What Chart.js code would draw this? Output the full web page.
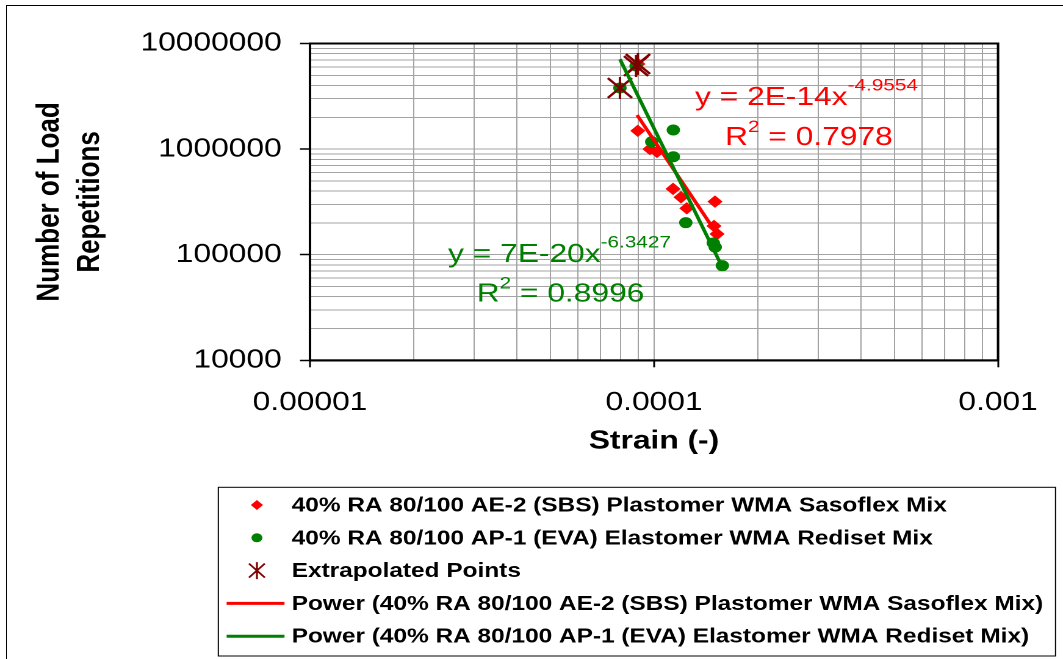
<!DOCTYPE html>
<html>
<head>
<meta charset="utf-8">
<script src="https://cdn.jsdelivr.net/npm/chart.js@4.4.0/dist/chart.umd.min.js"></script>
<style>
  html, body { margin: 0; padding: 0; background: #fff; width: 1063px; height: 659px; overflow: hidden; }
  #frame { position: absolute; left: 6px; top: 5px; width: 1100px; height: 700px;
           border-left: 1px solid #000; border-top: 1px solid #000; }
  /* the chart is laid out on a narrower canvas and widened horizontally */
  #wrap { position: absolute; left: 0; top: 0; width: 871px; height: 659px;
          transform: scaleX(1.2204); transform-origin: 0 0; }
</style>
</head>
<body>
<div id="frame"></div>
<div id="wrap"><canvas id="c"></canvas></div>
<script>
const FONT = "'Liberation Sans', Arial, Helvetica, sans-serif";
const RED = '#ff0000';
const GREEN = '#008000';
const MAROON = '#800000';

// Fatigue test results: strain (-) against number of load repetitions
const sbsStrain = [8.97e-5, 9.73e-5, 1.02e-4, 1.136e-4, 1.198e-4, 1.245e-4, 1.504e-4, 1.494e-4, 1.525e-4, 8.98e-5];
const sbsReps   = [1490000, 1000000, 940000, 420000, 350000, 275000, 318000, 187000, 157000, 6400000];

const evaStrain = [7.96e-5, 8.87e-5, 9.85e-5, 1.138e-4, 1.138e-4, 1.237e-4, 1.487e-4, 1.506e-4, 1.58e-4];
const evaReps   = [3790000, 6120000, 1175000, 1517000, 847000, 201000, 129000, 118000, 78700];

const extraStrain = [7.96e-5, 8.87e-5, 8.98e-5];
const extraReps   = [3790000, 6120000, 6400000];

// Power trend lines (end points)
const sbsTrendStrain = [8.93e-5, 1.545e-4];
const sbsTrendReps   = [2100000, 147000];
const evaTrendStrain = [7.96e-5, 1.58e-4];
const evaTrendReps   = [7100000, 76000];

// Axis tick labels
const xTickValues = [1e-5, 1e-4, 1e-3];
const xTickLabels = ['0.00001', '0.0001', '0.001'];
const yTickValues = [1e4, 1e5, 1e6, 1e7];
const yTickLabels = ['10000', '100000', '1000000', '10000000'];

const seriesLabels = [
  '40% RA 80/100 AE-2 (SBS) Plastomer WMA Sasoflex Mix',
  '40% RA 80/100 AP-1 (EVA) Elastomer WMA Rediset Mix',
  'Extrapolated Points',
  'Power (40% RA 80/100 AE-2 (SBS) Plastomer WMA Sasoflex Mix)',
  'Power (40% RA 80/100 AP-1 (EVA) Elastomer WMA Rediset Mix)'
];

// Trend line equations: [equation, exponent, R squared]
const sbsEquation = ['y = 2E-14x', '-4.9554', '0.7978'];
const evaEquation = ['y = 7E-20x', '-6.3427', '0.8996'];

// ---- layout (canvas units) ----
const W = 871, H = 659;
const PLOT_LEFT = 254, PLOT_RIGHT = 817.8, PLOT_TOP = 43.5, PLOT_BOTTOM = 360.3;
const X_AXIS_H = 110;

const pts = (xs, ys) => xs.map((x, i) => ({ x: x, y: ys[i] }));
const sameLog = (a, b) => Math.abs(Math.log10(a) - Math.log10(b)) < 1e-6;
const isDecade = v => Math.abs(Math.log10(v) - Math.round(Math.log10(v))) < 1e-6;
const labelFor = (v, values, labels) => {
  const i = values.findIndex(t => sameLog(t, v));
  return i >= 0 ? labels[i] : '';
};
function logTicks(min, max) {
  const out = [];
  for (let e = Math.round(Math.log10(min)); e < Math.round(Math.log10(max)); e++) {
    for (let m = 1; m <= 9; m++) out.push({ value: m * Math.pow(10, e) });
  }
  out.push({ value: max });
  return out;
}

const gridColor = '#a3a3a3';

// plot-area frame
const framePlugin = {
  id: 'plotFrame',
  beforeDatasetsDraw(chart) {
    const { ctx, chartArea: a } = chart;
    ctx.save();
    ctx.strokeStyle = '#000';
    ctx.lineWidth = 2;
    ctx.strokeRect(a.left, a.top, a.right - a.left, a.bottom - a.top);
    ctx.restore();
  }
};

// vertical stroke that turns the rotated cross into an asterisk
const asteriskPlugin = {
  id: 'asterisk',
  afterDatasetDraw(chart, args) {
    if (args.index !== 2) return;
    const ctx = chart.ctx;
    ctx.save();
    ctx.strokeStyle = MAROON;
    ctx.lineWidth = 2;
    args.meta.data.forEach(el => {
      ctx.beginPath();
      ctx.moveTo(el.x, el.y - 11);
      ctx.lineTo(el.x, el.y + 11);
      ctx.stroke();
    });
    ctx.restore();
  }
};

function drawEquation(ctx, eq, color, x, base, supRise, xR, baseR) {
  ctx.fillStyle = color;
  ctx.textBaseline = 'alphabetic';
  ctx.textAlign = 'left';
  ctx.font = '26px ' + FONT;
  ctx.fillText(eq[0], x, base);
  const w = ctx.measureText(eq[0]).width;
  ctx.font = '17px ' + FONT;
  ctx.fillText(eq[1], x + w, base - supRise);
  ctx.font = '26px ' + FONT;
  ctx.fillText('R', xR, baseR);
  const wR = ctx.measureText('R').width;
  ctx.font = '17px ' + FONT;
  ctx.fillText('2', xR + wR, baseR - 13);
  const w2 = ctx.measureText('2').width;
  ctx.font = '26px ' + FONT;
  ctx.fillText(' = ' + eq[2], xR + wR + w2, baseR);
}

const equationPlugin = {
  id: 'equations',
  afterDatasetsDraw(chart) {
    const ctx = chart.ctx;
    ctx.save();
    drawEquation(ctx, sbsEquation, RED, 569.5, 105, 14.5, 594.1, 145);
    drawEquation(ctx, evaEquation, GREEN, 367.1, 262, 14.7, 390.6, 301.7);
    ctx.restore();
  }
};

// boxed legend below the plot
const legendPlugin = {
  id: 'boxLegend',
  afterDraw(chart) {
    const ctx = chart.ctx;
    const box = { x: 178.9, y: 487.3, w: 686, h: 168.7 };
    ctx.save();
    ctx.strokeStyle = '#000';
    ctx.lineWidth = 1;
    ctx.strokeRect(box.x, box.y, box.w, box.h);
    const markX = 210.5, textX = 239, lineX0 = 185.7, lineX1 = 233.1;
    chart.data.datasets.forEach((ds, i) => {
      const y = 505 + 32.8 * i;
      ctx.fillStyle = ds.borderColor;
      ctx.strokeStyle = ds.borderColor;
      if (i === 0) {
        ctx.beginPath();
        ctx.moveTo(markX, y - 5); ctx.lineTo(markX + 5, y);
        ctx.lineTo(markX, y + 5); ctx.lineTo(markX - 5, y);
        ctx.closePath(); ctx.fill();
      } else if (i === 1) {
        ctx.beginPath(); ctx.arc(markX, y, 4.5, 0, Math.PI * 2); ctx.fill();
      } else if (i === 2) {
        ctx.lineWidth = 1.6;
        ctx.beginPath();
        ctx.moveTo(markX - 6.5, y - 7); ctx.lineTo(markX + 6.5, y + 7);
        ctx.moveTo(markX + 6.5, y - 7); ctx.lineTo(markX - 6.5, y + 7);
        ctx.moveTo(markX, y - 8.5); ctx.lineTo(markX, y + 8.5);
        ctx.stroke();
      } else {
        ctx.lineWidth = 3;
        ctx.beginPath(); ctx.moveTo(lineX0, y); ctx.lineTo(lineX1, y); ctx.stroke();
      }
      ctx.fillStyle = '#000';
      ctx.font = 'bold 20px ' + FONT;
      ctx.textBaseline = 'middle';
      ctx.textAlign = 'left';
      ctx.fillText(ds.label, textX, y + 1);
    });
    ctx.restore();
  }
};

const tickFont = { family: FONT, size: 26 };
const titleFont = { family: FONT, size: 26, weight: 'bold', lineHeight: 1.26 };

new Chart(document.getElementById('c'), {
  type: 'scatter',
  data: {
    datasets: [
      { label: seriesLabels[0], data: pts(sbsStrain, sbsReps), pointStyle: 'rectRot', pointRadius: 5.5,
        backgroundColor: RED, borderColor: RED, borderWidth: 1, order: 4 },
      { label: seriesLabels[1], data: pts(evaStrain, evaReps), pointStyle: 'circle', pointRadius: 5,
        backgroundColor: GREEN, borderColor: GREEN, borderWidth: 1, order: 3 },
      { label: seriesLabels[2], data: pts(extraStrain, extraReps), pointStyle: 'crossRot', pointRadius: 14,
        backgroundColor: MAROON, borderColor: MAROON, borderWidth: 2.2, order: 2 },
      { label: seriesLabels[3], data: pts(sbsTrendStrain, sbsTrendReps), showLine: true, pointRadius: 0,
        borderColor: RED, backgroundColor: RED, borderWidth: 3, order: 1 },
      { label: seriesLabels[4], data: pts(evaTrendStrain, evaTrendReps), showLine: true, pointRadius: 0,
        borderColor: GREEN, backgroundColor: GREEN, borderWidth: 3, order: 0 }
    ]
  },
  options: {
    responsive: true,
    maintainAspectRatio: false,
    devicePixelRatio: 2,
    animation: false,
    events: [],
    layout: { padding: { left: 0, right: W - PLOT_RIGHT, top: PLOT_TOP, bottom: H - PLOT_BOTTOM - X_AXIS_H } },
    plugins: { legend: { display: false }, tooltip: { enabled: false } },
    scales: {
      x: {
        type: 'logarithmic', position: 'bottom', min: 1e-5, max: 1e-3,
        afterBuildTicks: s => { s.ticks = logTicks(1e-5, 1e-3); },
        afterFit: s => { s.height = X_AXIS_H; },
        ticks: { autoSkip: false, maxRotation: 0, minRotation: 0, padding: 20, color: '#000', font: tickFont,
                 callback: v => labelFor(v, xTickValues, xTickLabels) },
        grid: { color: gridColor, lineWidth: 1, tickLength: 7, tickWidth: 1.5,
                tickColor: c => (c.tick && isDecade(c.tick.value)) ? '#000' : 'rgba(0,0,0,0)' },
        border: { display: true, color: '#000', width: 2 },
        title: { display: true, text: 'Strain (-)', color: '#000', font: titleFont, padding: { top: 0, bottom: 12.7 } }
      },
      y: {
        type: 'logarithmic', position: 'left', min: 1e4, max: 1e7,
        afterBuildTicks: s => { s.ticks = logTicks(1e4, 1e7); },
        afterFit: s => { s.width = PLOT_LEFT; },
        ticks: { autoSkip: false, padding: 15, color: '#000', font: tickFont,
                 callback: v => labelFor(v, yTickValues, yTickLabels) },
        grid: { color: gridColor, lineWidth: 1, tickLength: 8.2, tickWidth: 1.5,
                tickColor: c => (c.tick && isDecade(c.tick.value)) ? '#000' : 'rgba(0,0,0,0)' },
        border: { display: true, color: '#000', width: 2 },
        title: { display: true, text: ['Number of Load', 'Repetitions'], color: '#000', font: titleFont,
                 padding: { top: 24.6, bottom: 0 } }
      }
    }
  },
  plugins: [framePlugin, asteriskPlugin, equationPlugin, legendPlugin]
});
</script>
</body>
</html>
